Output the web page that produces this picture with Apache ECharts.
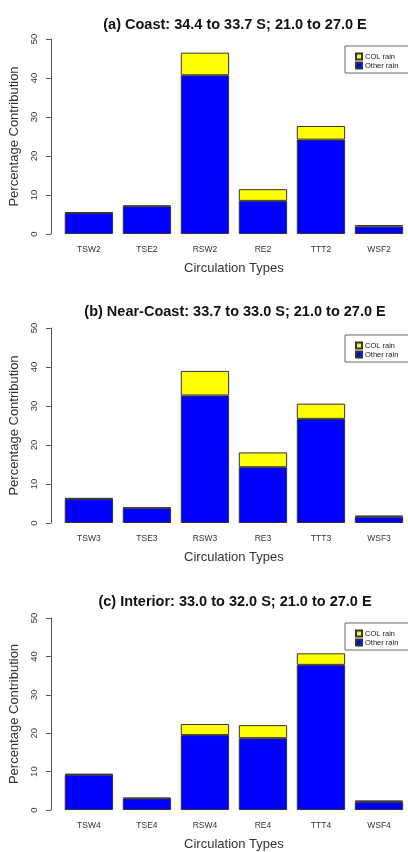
<!DOCTYPE html>
<html>
<head>
<meta charset="utf-8">
<script src="https://cdn.jsdelivr.net/npm/echarts@6/dist/echarts.min.js"></script>
<style>
  html, body { margin: 0; padding: 0; background: #fff; }
  #main { width: 408px; height: 852px; }
</style>
</head>
<body>
<div id="main"></div>
<script>
// categories per region
var catsA = ['TSW2', 'TSE2', 'RSW2', 'RE2', 'TTT2', 'WSF2'];
var catsB = ['TSW3', 'TSE3', 'RSW3', 'RE3', 'TTT3', 'WSF3'];
var catsC = ['TSW4', 'TSE4', 'RSW4', 'RE4', 'TTT4', 'WSF4'];

// percentage contribution (other rain at bottom, COL rain on top)
var otherA = [5.4, 7.1, 40.7, 8.5, 24.2, 1.9];
var colA = [0.2, 0.2, 5.8, 3.0, 3.5, 0.4];
var otherB = [6.2, 3.8, 32.7, 14.3, 26.7, 1.6];
var colB = [0.2, 0.2, 6.3, 3.8, 3.9, 0.3];
var otherC = [9.2, 3.0, 19.5, 18.7, 37.8, 2.1];
var colC = [0.2, 0.2, 2.9, 3.4, 3.0, 0.4];

var titles = [
  '(a) Coast: 34.4 to 33.7 S; 21.0 to 27.0 E',
  '(b) Near-Coast: 33.7 to 33.0 S; 21.0 to 27.0 E',
  '(c) Interior: 33.0 to 32.0 S; 21.0 to 27.0 E'
];
var yTicks = [0, 10, 20, 30, 40, 50];

var FONT = '"Liberation Sans", Arial, sans-serif';
var panels = [
  { cats: catsA, other: otherA, col: colA, top: 39, height: 195, titleTop: 12, legendTop: 46 },
  { cats: catsB, other: otherB, col: colB, top: 328, height: 195, titleTop: 299, legendTop: 335 },
  { cats: catsC, other: otherC, col: colC, top: 618, height: 193, titleTop: 589, legendTop: 623 }
];

var chart = echarts.init(document.getElementById('main'));
var option = {
  backgroundColor: '#fff',
  animation: false,
  title: [],
  legend: [],
  grid: [],
  xAxis: [],
  yAxis: [],
  series: []
};

panels.forEach(function (p, i) {
  option.title.push({
    text: titles[i],
    left: 230,
    textAlign: 'center',
    top: p.titleTop,
    textStyle: { fontFamily: FONT, fontSize: 14.5, fontWeight: 'bold', color: '#111' }
  });
  option.legend.push({
    data: ['COL rain', 'Other rain'],
    orient: 'vertical',
    left: 345,
    top: p.legendTop,
    padding: [6, 40, 3, 10],
    itemGap: 0,
    itemWidth: 6,
    itemHeight: 6,
    icon: 'rect',
    backgroundColor: '#fff',
    borderColor: '#666',
    borderWidth: 1,
    borderRadius: 0,
    textStyle: { fontFamily: FONT, fontSize: 7.5, lineHeight: 9, color: '#222', padding: [0, 0, 0, -2] }
  });
  option.grid.push({ left: 59, width: 351, top: p.top, height: p.height });
  option.xAxis.push({
    type: 'category',
    gridIndex: i,
    data: p.cats,
    axisLine: { show: false },
    axisTick: { show: false },
    axisLabel: { fontFamily: FONT, fontSize: 8.5, color: '#333', margin: 11 },
    name: 'Circulation Types',
    nameLocation: 'middle',
    nameGap: 28,
    nameTextStyle: { fontFamily: FONT, fontSize: 13, color: '#333' }
  });
  option.yAxis.push({
    type: 'value',
    gridIndex: i,
    min: 0,
    max: 50,
    interval: 10,
    offset: 9,
    splitLine: { show: false },
    axisLine: { show: true, lineStyle: { color: '#555', width: 1 } },
    axisTick: { show: true, length: 5, lineStyle: { color: '#555' } },
    axisLabel: {
      fontFamily: FONT, fontSize: 9.5, color: '#333', rotate: 90, margin: 12,
      formatter: function (v) { return yTicks.indexOf(v) >= 0 ? String(v) : ''; }
    },
    name: 'Percentage Contribution',
    nameLocation: 'middle',
    nameRotate: 90,
    nameGap: 28,
    nameTextStyle: { fontFamily: FONT, fontSize: 13, color: '#333' }
  });
  option.series.push({
    name: 'Other rain',
    type: 'bar',
    stack: 'rain' + i,
    xAxisIndex: i,
    yAxisIndex: i,
    barCategoryGap: '16.7%',
    data: p.other,
    itemStyle: { color: '#0000ff', borderColor: '#333', borderWidth: 1 }
  });
  option.series.push({
    name: 'COL rain',
    type: 'bar',
    stack: 'rain' + i,
    xAxisIndex: i,
    yAxisIndex: i,
    barCategoryGap: '16.7%',
    data: p.col,
    itemStyle: { color: '#ffff00', borderColor: '#333', borderWidth: 1 }
  });
});

chart.setOption(option);
</script>
</body>
</html>
